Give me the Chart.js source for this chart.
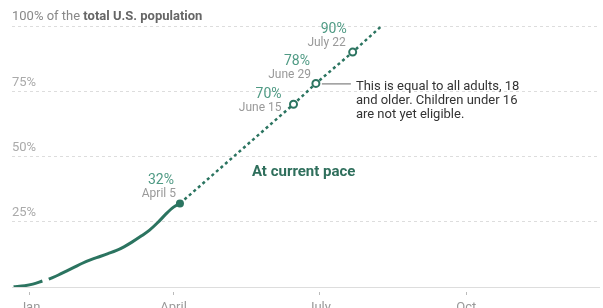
<!DOCTYPE html>
<html>
<head>
<meta charset="utf-8">
<script src="https://cdn.jsdelivr.net/npm/chart.js@4"></script>
<style>
  html, body { margin: 0; padding: 0; background: #fff; }
  #wrap { width: 603px; height: 308px; position: relative; }
</style>
</head>
<body>
<div id="wrap"><canvas id="chart"></canvas></div>
<script>
// Days are counted from Jan 1, 2021 (negative = late December 2020)
const actualDays = [-10, -3, 2, 8, 10, 12, 18, 23, 28, 33, 38, 44, 49, 54, 59, 64, 70, 75, 80, 85, 90, 94];
const actualShare = [0.1, 0.5, 1.1, 2.3, null, 3.0, 4.6, 6.1, 7.6, 9.1, 10.4, 11.7, 12.8, 13.9, 15.4, 17.2, 19.6, 21.8, 24.6, 27.8, 30.6, 32];
const paceDays = [94, 165, 179, 202, 220];
const paceShare = [32, 70, 78, 90, 100];
const markerDates = ['April 5', 'June 15', 'June 29', 'July 22'];
const monthDays = [0, 90, 181, 273];
const monthLabels = ['Jan', 'April', 'July', 'Oct'];
const shareTicks = [25, 50, 75, 100];

const green = '#2b7460';
const lightGreen = '#4f9a84';
const grey = '#999';

// label placement next to each marker: [pct dx, pct dy, date dx, date dy]
const labelOffsets = [[-6, -23, -4, -9], [-12, -10, -12, 4], [-6, -22, -5, -8], [-6, -23, -7, -9]];

const annotations = {
  id: 'annotations',
  afterDatasetsDraw(chart) {
    const ctx = chart.ctx;
    const x = chart.scales.x;
    const y = chart.scales.y;
    ctx.save();

    // header on the 100% line
    ctx.textBaseline = 'middle';
    ctx.textAlign = 'left';
    ctx.font = '13px Roboto';
    ctx.fillStyle = '#888';
    const head = '100% of the ';
    ctx.fillText(head, 12, y.getPixelForValue(100) - 9);
    const w = ctx.measureText(head).width;
    ctx.font = 'bold 13px Roboto';
    ctx.fillStyle = '#666';
    ctx.fillText('total U.S. population', 12 + w, y.getPixelForValue(100) - 9);

    // value and date labels for the markers
    ctx.textAlign = 'right';
    markerDates.forEach((d, i) => {
      const px = x.getPixelForValue(paceDays[i]);
      const py = y.getPixelForValue(paceShare[i]);
      const o = labelOffsets[i];
      ctx.font = '14px Roboto';
      ctx.fillStyle = lightGreen;
      ctx.fillText(paceShare[i] + '%', px + o[0], py + o[1]);
      ctx.font = '12px Roboto';
      ctx.fillStyle = grey;
      ctx.fillText(d, px + o[2], py + o[3]);
    });

    // note about adults
    const nx = x.getPixelForValue(paceDays[2]);
    const ny = y.getPixelForValue(paceShare[2]);
    ctx.strokeStyle = '#666';
    ctx.lineWidth = 1;
    ctx.beginPath();
    ctx.moveTo(nx + 6, ny + 0.5);
    ctx.lineTo(nx + 35, ny + 0.5);
    ctx.stroke();
    ctx.textAlign = 'left';
    ctx.font = '13px Roboto';
    ctx.fillStyle = '#333';
    ['This is equal to all adults, 18', 'and older. Children under 16', 'are not yet eligible.']
      .forEach((t, i) => ctx.fillText(t, nx + 40, ny + 3 + i * 14));

    // series label
    ctx.font = 'bold 15px Roboto';
    ctx.fillStyle = '#2f6f5c';
    ctx.fillText('At current pace', x.getPixelForValue(139), y.getPixelForValue(44));
    ctx.restore();
  }
};

new Chart(document.getElementById('chart'), {
  type: 'line',
  data: {
    datasets: [
      {
        label: 'At current pace',
        data: paceDays.map((d, i) => ({ x: d, y: paceShare[i] })),
        borderColor: green,
        borderWidth: 2.5,
        borderDash: [3, 3],
        pointRadius: (c) => (c.dataIndex > 0 && c.dataIndex < paceDays.length - 1 ? 3.5 : 0),
        pointBackgroundColor: '#fff',
        pointBorderColor: green,
        pointBorderWidth: 2,
        tension: 0,
        order: 2
      },
      {
        label: 'Received at least one dose',
        data: actualDays.map((d, i) => ({ x: d, y: actualShare[i] })),
        borderColor: green,
        borderWidth: 3,
        spanGaps: false,
        pointRadius: (c) => (c.dataIndex === actualDays.length - 1 ? 4 : 0),
        pointBackgroundColor: green,
        pointBorderWidth: 0,
        cubicInterpolationMode: 'monotone',
        order: 1
      }
    ]
  },
  options: {
    responsive: true,
    maintainAspectRatio: false,
    animation: false,
    layout: { padding: { top: 26, left: 12, right: -4, bottom: 0 } },
    plugins: { legend: { display: false }, tooltip: { enabled: false } },
    scales: {
      x: {
        type: 'linear',
        min: -11,
        max: 356,
        afterBuildTicks: (s) => { s.ticks = monthDays.map((v) => ({ value: v })); },
        afterFit: (s) => { s.height = 21; },
        grid: {
          drawOnChartArea: false,
          drawTicks: true,
          tickLength: 8,
          tickColor: '#bbb',
          tickBorderDash: [0, 4, 4, 100]
        },
        border: { display: true, color: '#ddd', width: 1 },
        ticks: {
          padding: 5,
          color: grey,
          font: { family: 'Roboto', size: 13 },
          maxRotation: 0,
          autoSkip: false,
          callback: (v) => monthLabels[monthDays.indexOf(v)] || ''
        }
      },
      y: {
        min: 0,
        max: 100,
        afterBuildTicks: (s) => { s.ticks = [0].concat(shareTicks).map((v) => ({ value: v })); },
        afterFit: (s) => { s.width = 0; },
        grid: {
          color: (c) => (c.tick && c.tick.value === 0 ? 'rgba(0,0,0,0)' : '#ddd'),
          drawTicks: false
        },
        border: { display: false, dash: [3, 3] },
        ticks: {
          mirror: true,
          padding: 0,
          labelOffset: -9,
          color: '#aaa',
          font: { family: 'Roboto', size: 13 },
          callback: (v) => (v === 0 || v === 100 ? '' : v + '%')
        }
      }
    }
  },
  plugins: [annotations]
});
</script>
</body>
</html>
